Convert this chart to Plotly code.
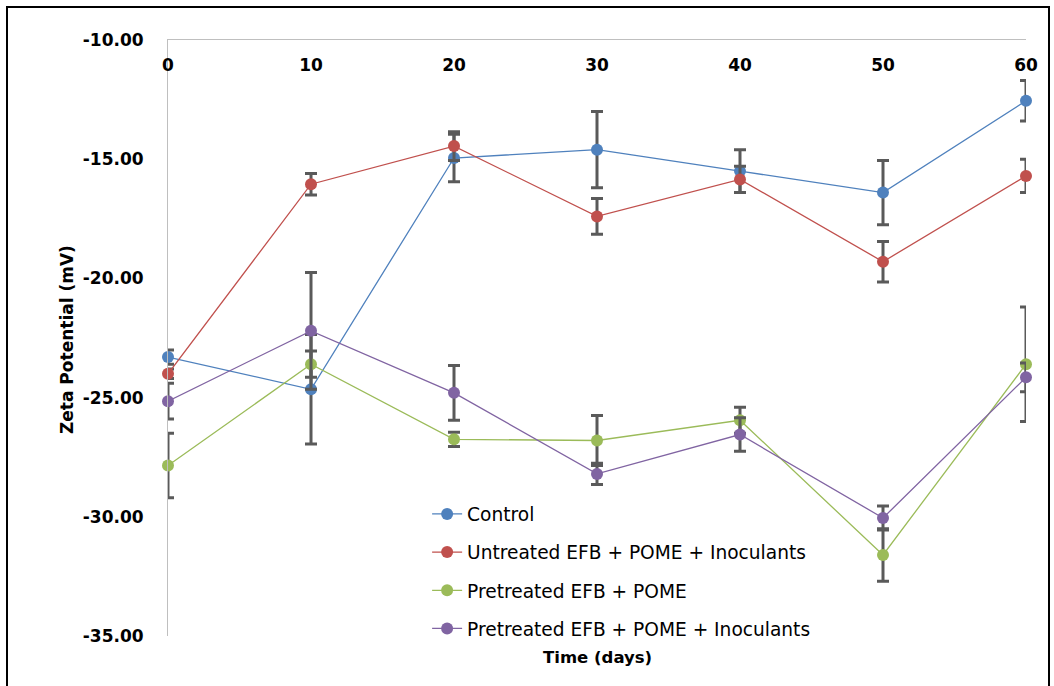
import plotly.graph_objects as go

days = [0, 10, 20, 30, 40, 50, 60]
tick_labels = ["0", "10", "20", "30", "40", "50", "60"]
y_ticks = [-10, -15, -20, -25, -30, -35]
y_tick_labels = ["-10.00", "-15.00", "-20.00", "-25.00", "-30.00", "-35.00"]

control = [-23.3, -24.65, -14.95, -14.6, -15.5, -16.4, -12.55]
control_err = [0.3, 2.3, 1.0, 1.6, 0.9, 1.35, 0.85]

untreated = [-24.0, -16.05, -14.45, -17.4, -15.85, -19.3, -15.7]
untreated_err = [0.2, 0.45, 0.6, 0.75, 0.55, 0.85, 0.7]

pretreated = [-27.85, -23.6, -26.75, -26.8, -25.95, -31.6, -23.6]
pretreated_err = [1.35, 0.55, 0.3, 1.05, 0.55, 1.1, 2.4]

pretreated_inoc = [-25.15, -22.2, -24.8, -28.2, -26.55, -30.05, -24.15]
pretreated_inoc_err = [0.75, 2.45, 1.15, 0.45, 0.7, 0.5, 0.6]

series = [
    ("Control", control, control_err, "#4F81BD"),
    ("Untreated EFB + POME + Inoculants", untreated, untreated_err, "#C0504D"),
    ("Pretreated EFB + POME", pretreated, pretreated_err, "#9BBB59"),
    ("Pretreated EFB + POME + Inoculants", pretreated_inoc, pretreated_inoc_err, "#8064A2"),
]

fig = go.Figure()
for i, (name, vals, errs, col) in enumerate(series):
    fig.add_trace(go.Scatter(
        x=days, y=vals, name=name, mode="lines+markers",
        line=dict(color=col, width=1.3),
        marker=dict(color=col, size=12),
        error_y=dict(type="data", array=errs, visible=True,
                     color="#5A5A5A", thickness=3, width=6),
        cliponaxis=False,
        legendgroup=f"g{i}",
    ))

FONT = "DejaVu Sans"
fig.update_layout(
    width=1054, height=686,
    margin=dict(l=168, r=28, t=40, b=50),
    paper_bgcolor="white", plot_bgcolor="white",
    font=dict(family=FONT, color="black"),
    showlegend=True,
    legend=dict(
        x=0.302, y=0.236, xanchor="left", yanchor="top",
        bgcolor="rgba(255,255,255,0)",
        font=dict(family=FONT, size=18.6, color="black"),
        tracegroupgap=11,
    ),
    xaxis=dict(
        range=[0, 60], tickvals=days, ticktext=tick_labels,
        side="top", ticklabelposition="inside", ticklabelstandoff=20,
        ticklabeloverflow="allow",
        showline=True, linecolor="#BFBFBF", linewidth=1,
        showgrid=False, zeroline=False, ticks="",
        tickfont=dict(family=FONT, size=17, weight="bold", color="black"),
    ),
    yaxis=dict(
        range=[-35, -10], tickvals=y_ticks, ticktext=y_tick_labels,
        ticklabeloverflow="allow",
        showline=True, linecolor="#BFBFBF", linewidth=1,
        showgrid=False, zeroline=False, ticks="",
        ticklabelstandoff=20,
        tickfont=dict(family=FONT, size=17, weight="bold", color="black"),
    ),
    annotations=[
        dict(text="Zeta Potential (mV)", textangle=-90, xref="paper", yref="paper",
             x=(67 - 168) / 858, y=(636 - 340) / 596, xanchor="center", yanchor="middle",
             showarrow=False, font=dict(family=FONT, size=17, weight="bold", color="black")),
        dict(text="Time (days)", xref="paper", yref="paper",
             x=(597 - 168) / 858, y=(636 - 657) / 596, xanchor="center", yanchor="middle",
             showarrow=False, font=dict(family=FONT, size=16.5, weight="bold", color="black")),
    ],
    shapes=[
        dict(type="rect", xref="paper", yref="paper",
             x0=(7 - 168) / 858, x1=(1049 - 168) / 858,
             y0=(636 - 700) / 596, y1=(636 - 7) / 596,
             line=dict(color="black", width=2), fillcolor="rgba(0,0,0,0)", layer="below"),
    ],
)

fig.write_html("out.html")
